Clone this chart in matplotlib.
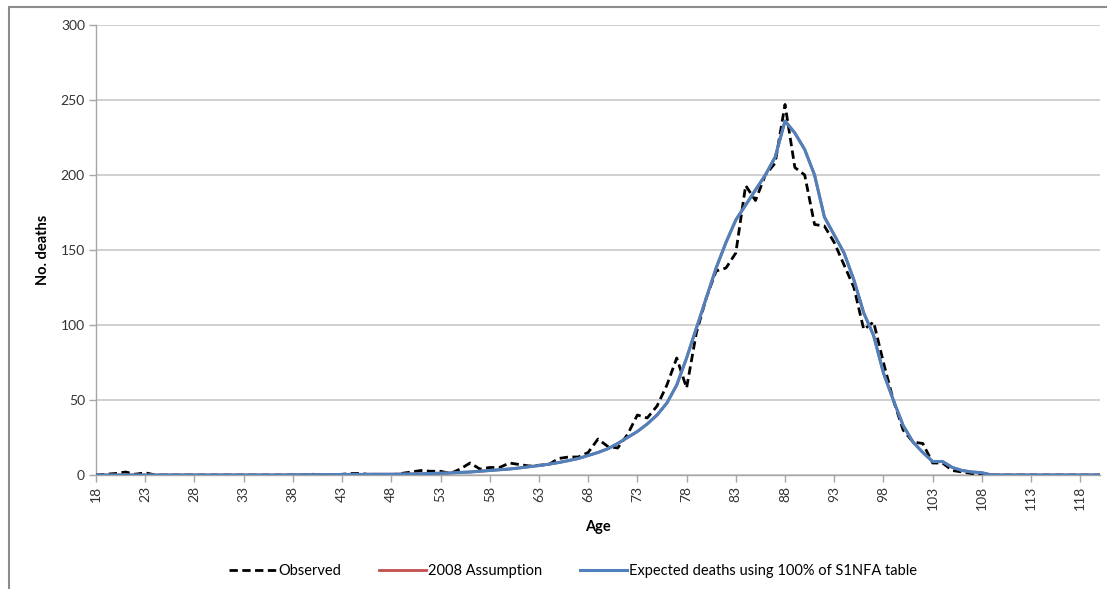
import matplotlib
matplotlib.use("Agg")
import matplotlib.pyplot as plt
from matplotlib.patches import Rectangle

ages = list(range(18, 121))

observed = [
    0, 0.5, 1, 2, 0.5, 1.5, 0, 0, 0, 0,            # 18-27
    0, 0, 0, 0, 0, 0, 0, 0, 0, 0,                  # 28-37
    0, 0, 0.5, 0, 0, 0.5, 1, 1, 0, 0,              # 38-47
    0, 1, 2, 3, 2.5, 2.5, 1, 4, 8, 4,              # 48-57
    5, 5, 8, 7, 6, 6.5, 7, 11, 12, 12,             # 58-67
    15, 24, 19, 18, 27, 40, 38, 46, 60, 78,        # 68-77
    58, 95, 118, 136, 138, 148, 193, 183, 200, 208,  # 78-87
    247, 205, 200, 167, 166, 155, 140, 125, 97, 102,  # 88-97
    75, 50, 30, 22, 21, 8, 8, 3, 2, 1,             # 98-107
    1, 0, 0, 0, 0, 0, 0, 0, 0, 0,                  # 108-117
    0, 0, 0,                                        # 118-120
]

expected = [
    0, 0, 0, 0, 0, 0, 0, 0, 0, 0,                  # 18-27
    0, 0, 0, 0, 0, 0, 0, 0, 0, 0,                  # 28-37
    0.1, 0.1, 0.2, 0.2, 0.3, 0.3, 0.4, 0.4, 0.5, 0.5,  # 38-47
    0.5, 0.6, 0.7, 0.8, 1.0, 1.2, 1.4, 1.7, 2.0, 2.5,  # 48-57
    3.0, 3.5, 4.0, 4.7, 5.5, 6.3, 7.2, 8.3, 9.6, 11,   # 58-67
    13, 15, 17.5, 21, 25, 29, 34, 40, 48, 60,      # 68-77
    78, 98, 118, 138, 155, 170, 180, 190, 200, 212,  # 78-87
    236, 228, 217, 200, 172, 160, 148, 130, 108, 93,  # 88-97
    68, 50, 33, 22, 15, 9, 9, 5, 3, 2,             # 98-107
    1.5, 0, 0, 0, 0, 0, 0, 0, 0, 0,                # 108-117
    0, 0, 0,                                        # 118-120
]

assumption_2008 = expected  # hidden beneath the expected curve

x_ticks = list(range(18, 119, 5))
y_ticks = [0, 50, 100, 150, 200, 250, 300]

plt.rcParams['font.family'] = ['Lato', 'DejaVu Sans']

W, H = 1107, 589
fig = plt.figure(figsize=(W / 100, H / 100), dpi=100)
fig.patch.set_facecolor('white')

# outer chart frame
fig.add_artist(Rectangle((9 / W, -0.05), 1.2, 1 - 7 / H + 0.05,
                         transform=fig.transFigure, fill=False,
                         edgecolor='#8c8c8c', linewidth=1.5))

ax = fig.add_axes([96 / W, 1 - 475 / H, (1100 - 96) / W, (475 - 25) / H])

ax.plot(ages, observed, color='black', linewidth=2.0, dashes=(3, 1.6),
        label='Observed', zorder=3)
ax.plot(ages, assumption_2008, color='#C0504D', linewidth=2.0,
        label='2008 Assumption', zorder=3)
ax.plot(ages, expected, color='#4F81BD', linewidth=2.2,
        label='Expected deaths using 100% of S1NFA table', zorder=4)

ax.set_xlim(18, 120)
ax.set_ylim(0, 300)
ax.set_xticks(x_ticks)
ax.set_xticklabels([str(t) for t in x_ticks], rotation=90, fontsize=10,
                   color='#333333')
ax.set_yticks(y_ticks)
ax.set_yticklabels([str(t) for t in y_ticks], fontsize=10, color='#333333')

ax.grid(axis='y', color='#c8c8c8', linewidth=1.2)
ax.set_axisbelow(True)
for s in ['top', 'right']:
    ax.spines[s].set_visible(False)
for s in ['left', 'bottom']:
    ax.spines[s].set_color('#a6a6a6')
    ax.spines[s].set_linewidth(1.0)
ax.tick_params(axis='both', length=5, color='#a6a6a6', width=1.0, pad=3)

ax.set_xlabel('Age', fontsize=10.5, fontweight='bold', labelpad=7)
ax.set_ylabel('No. deaths', fontsize=10.5, fontweight='bold', labelpad=8)

handles, labels = ax.get_legend_handles_labels()
fig.legend(handles, labels, loc='center', bbox_to_anchor=(573 / W, 1 - 571 / H),
           ncol=3, frameon=False, fontsize=10.5, handlelength=3.2,
           handletextpad=0.15, columnspacing=2.6)

fig.savefig('out.png', dpi=100, facecolor='white')
